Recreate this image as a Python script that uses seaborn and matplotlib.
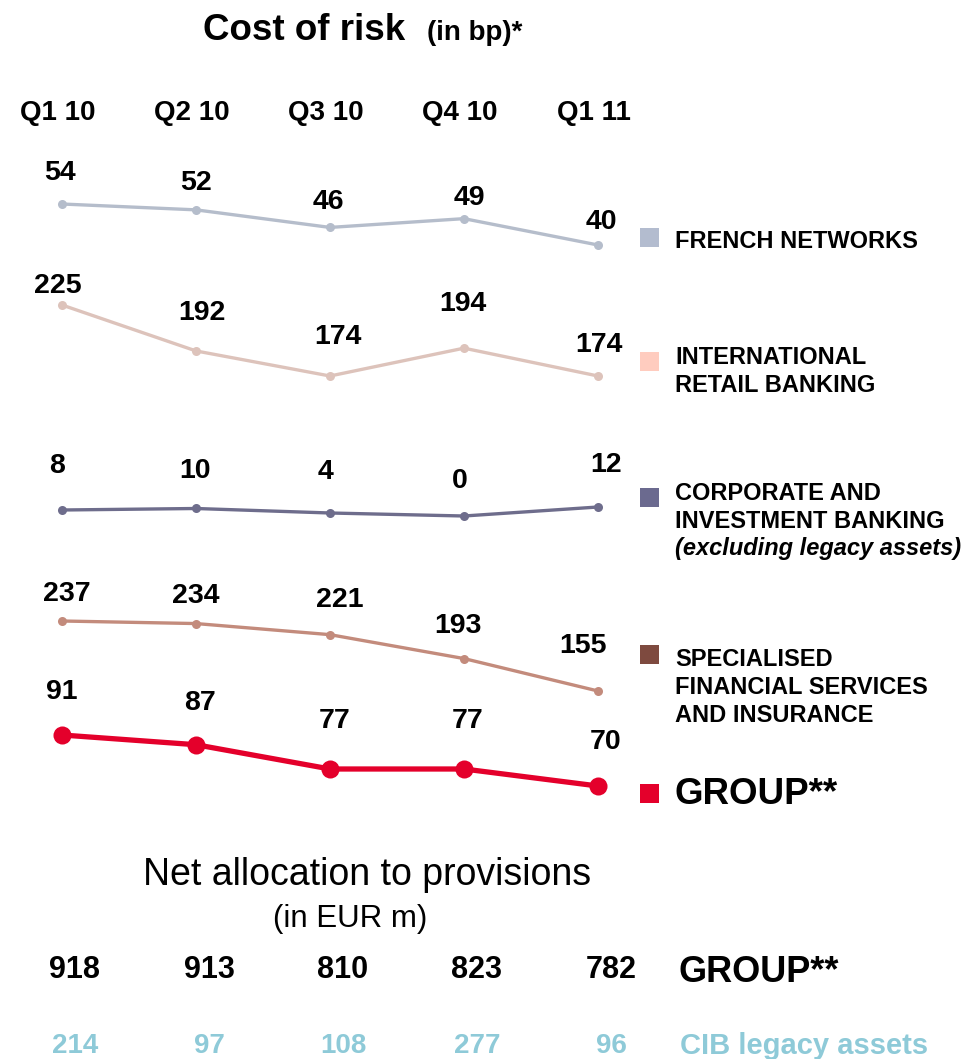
import matplotlib
matplotlib.use("Agg")
import matplotlib.pyplot as plt
import seaborn as sns
import pandas as pd
from matplotlib.patches import Rectangle

# ---- data -------------------------------------------------------------
quarters = ["Q1 10", "Q2 10", "Q3 10", "Q4 10", "Q1 11"]
french_networks = [54, 52, 46, 49, 40]
intl_retail_banking = [225, 192, 174, 194, 174]
cib_excl_legacy = [8, 10, 4, 0, 12]
specialised_fs_ins = [237, 234, 221, 193, 155]
group_cost = [91, 87, 77, 77, 70]
group_provisions = [918, 913, 810, 823, 782]
cib_legacy_provisions = [214, 97, 108, 277, 96]

# ---- canvas -----------------------------------------------------------
W, H = 968, 1059
sns.set_theme(style="white")
plt.rcParams["font.family"] = ["Liberation Sans", "DejaVu Sans"]
fig = plt.figure(figsize=(W / 100, H / 100), dpi=100)
fig.patch.set_facecolor("white")


def fx(px):
    return px / W


def fy(py):
    return 1 - py / H


X_LEFT, X_RIGHT = 62, 598
BLACK = "#000000"
VALUE_SIZE = 20.5
LEGEND_SIZE = 17

# each panel: its own vertical band (pixel rows of the max / min value)
panels = [
    dict(values=french_networks, top=204, bottom=245, color="#B5BDCB",
         ms=6.5, lw=2.4, sq_color="#B3BCCF", sq_top=228,
         legend=[("FRENCH NETWORKS", "normal")], leg_y=242, leg_size=LEGEND_SIZE,
         lab_off=[(-2, 31), (0, 27), (-2, 25), (5, 21), (3, 23)]),
    dict(values=intl_retail_banking, top=305, bottom=376, color="#DDC3BB",
         ms=6.5, lw=2.4, sq_color="#FFCCBF", sq_top=352,
         legend=[("INTERNATIONAL", "normal"), ("RETAIL BANKING", "normal")],
         leg_y=358, leg_size=LEGEND_SIZE,
         lab_off=[(-4, 19), (6, 38), (8, 39), (-1, 44), (1, 31)]),
    dict(values=cib_excl_legacy, top=507, bottom=516, color="#6E6D8C",
         ms=6.5, lw=2.4, sq_color="#6B6A8F", sq_top=488,
         legend=[("CORPORATE AND", "normal"), ("INVESTMENT BANKING", "normal"),
                 ("(excluding legacy assets)", "italic")],
         leg_y=493, leg_size=LEGEND_SIZE,
         lab_off=[(-5, 44), (-1, 37), (-5, 41), (-4, 35), (8, 42)]),
    dict(values=specialised_fs_ins, top=621, bottom=691, color="#C38B7C",
         ms=6.5, lw=2.4, sq_color="#7E4A3F", sq_top=645,
         legend=[("SPECIALISED", "normal"), ("FINANCIAL SERVICES", "normal"),
                 ("AND INSURANCE", "normal")],
         leg_y=660, leg_size=LEGEND_SIZE,
         lab_off=[(5, 27), (0, 28), (10, 35), (-6, 33), (-15, 45)]),
    dict(values=group_cost, top=735, bottom=786, color="#E4002B",
         ms=13, lw=3.8, sq_color="#E4002B", sq_top=784,
         legend=[("GROUP**", "normal")], leg_y=794, leg_size=26.5,
         lab_off=[(0, 43), (4, 42), (5, 48), (4, 48), (8, 44)]),
]

x_pos = list(range(len(quarters)))
axes = []
for p in panels:
    vals = p["values"]
    ax = fig.add_axes([fx(X_LEFT), fy(p["bottom"]),
                       fx(X_RIGHT) - fx(X_LEFT), (p["bottom"] - p["top"]) / H])
    df = pd.DataFrame({"quarter": x_pos, "value": vals})
    sns.lineplot(data=df, x="quarter", y="value", ax=ax, color=p["color"],
                 linewidth=p["lw"], marker="o", markersize=p["ms"],
                 markeredgewidth=0, clip_on=False, legend=False)
    ax.set_xlim(0, len(quarters) - 1)
    ax.set_ylim(min(vals), max(vals))
    ax.axis("off")
    for i, v in enumerate(vals):
        dx, dy = p["lab_off"][i]
        ax.annotate(str(v), (i, v), xytext=(dx, dy), textcoords="offset pixels",
                    ha="center", va="center", fontsize=VALUE_SIZE,
                    fontweight="bold", color=BLACK, annotation_clip=False)
    # legend key square and text
    sq = 19
    fig.add_artist(Rectangle((fx(640), fy(p["sq_top"] + sq)), sq / W, sq / H,
                             transform=fig.transFigure, facecolor=p["sq_color"],
                             edgecolor="none"))
    for k, (line, style) in enumerate(p["legend"]):
        fig.text(fx(675), fy(p["leg_y"] + 28 * k), line, ha="left", va="center",
                 fontsize=p["leg_size"], fontweight="bold", style=style,
                 color=BLACK)
    axes.append(ax)

# quarter headers
top_ax = axes[0]
for i, q in enumerate(quarters):
    top_ax.annotate(q, (i, fy(113)), xycoords=("data", "figure fraction"),
                    xytext=(-4, 0), textcoords="offset pixels", ha="center",
                    va="center", fontsize=20, fontweight="bold", color=BLACK,
                    annotation_clip=False)

# title
fig.text(fx(203), fy(40), "Cost of risk", ha="left", va="baseline",
         fontsize=26.5, fontweight="bold", color=BLACK)
fig.text(fx(427), fy(40), "(in bp)*", ha="left", va="baseline",
         fontsize=20, fontweight="bold", color=BLACK)

# net allocation to provisions block
fig.text(fx(367), fy(875), "Net allocation to provisions", ha="center",
         va="center", fontsize=27, color=BLACK)
fig.text(fx(350), fy(919), "(in EUR m)", ha="center", va="center",
         fontsize=22.5, color=BLACK)

bottom_ax = axes[-1]
TEAL = "#8ECAD8"
for i, v in enumerate(group_provisions):
    bottom_ax.annotate(str(v), (i, fy(970)), xycoords=("data", "figure fraction"),
                       xytext=(13, 0), textcoords="offset pixels", ha="center",
                       va="center", fontsize=22, fontweight="bold", color=BLACK,
                       annotation_clip=False)
for i, v in enumerate(cib_legacy_provisions):
    bottom_ax.annotate(str(v), (i, fy(1046)), xycoords=("data", "figure fraction"),
                       xytext=(13, 0), textcoords="offset pixels", ha="center",
                       va="center", fontsize=20, fontweight="bold", color=TEAL,
                       annotation_clip=False)
fig.text(fx(678), fy(972), "GROUP**", ha="left", va="center", fontsize=26,
         fontweight="bold", color=BLACK)
fig.text(fx(680), fy(1046), "CIB legacy assets", ha="left", va="center",
         fontsize=21, fontweight="bold", color=TEAL)

fig.savefig("out.png", dpi=100, facecolor="white")
